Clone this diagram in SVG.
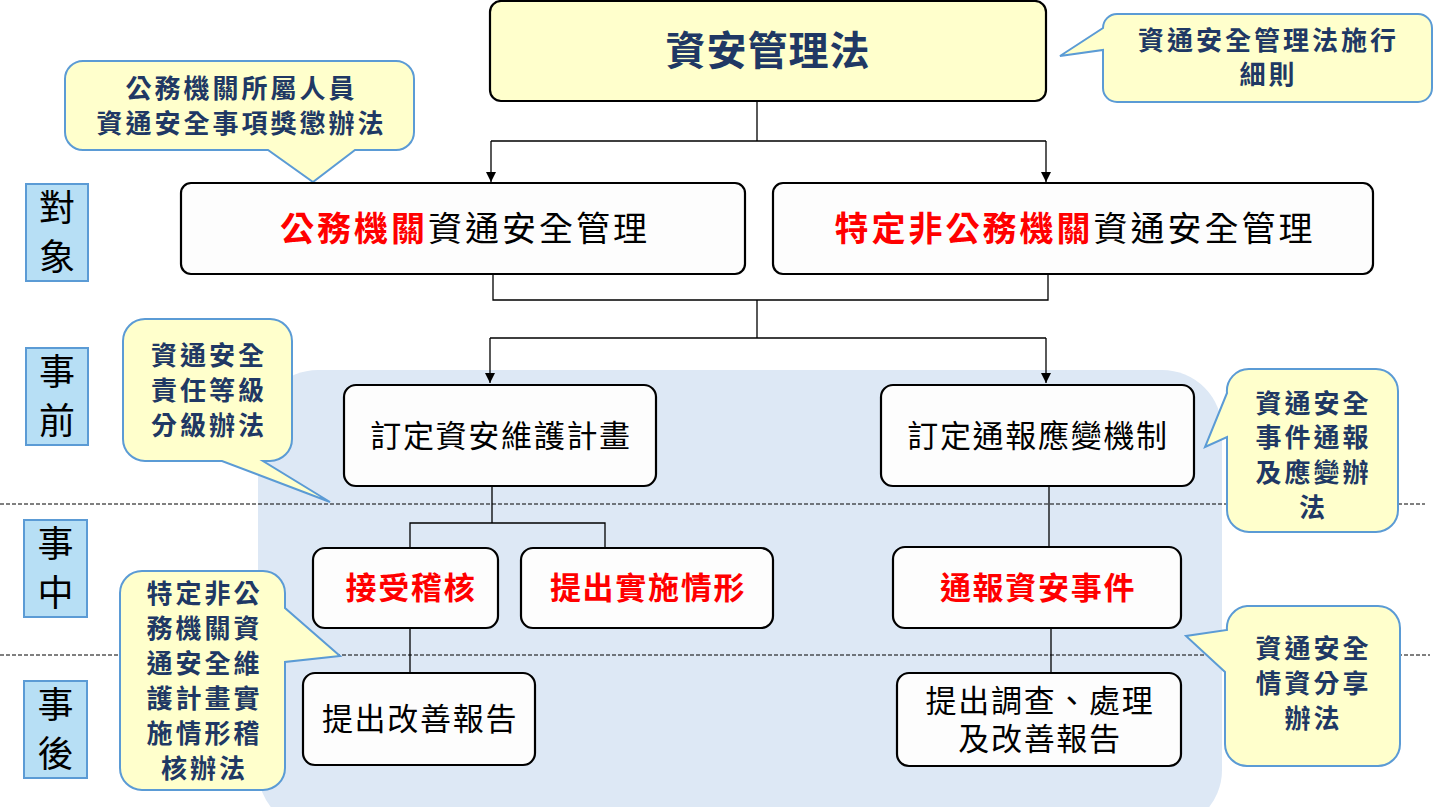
<svg xmlns="http://www.w3.org/2000/svg" width="1433" height="807" viewBox="0 0 1433 807">
<defs>
<style>
.bg{fill:#dde8f5;stroke:none}
.dash{stroke:#000;stroke-width:1;stroke-dasharray:4 2;fill:none}
.box{fill:#fdfdfd;stroke:#000;stroke-width:2.2}
.law{fill:#ffffcc;stroke:#000;stroke-width:2.2}
.call{fill:#ffffcc;stroke:#5b9bd5;stroke-width:2}
.lbl{fill:#b7dff5;stroke:#5b9bd5;stroke-width:2}
.conn{stroke:#000;stroke-width:1.3;fill:none}
text{font-family:"Noto Sans CJK TC","Noto Sans CJK SC",sans-serif;text-anchor:middle}
.tc{font-size:26px;font-weight:700;fill:#203864;letter-spacing:3px}
.tl{font-size:36px;font-weight:400;fill:#000}
.tb{font-size:34px;font-weight:400;fill:#000;letter-spacing:3px}
.tm{font-size:31px;font-weight:400;fill:#000;letter-spacing:1.7px}
.red{fill:#ff0000;font-weight:700}
</style>
<marker id="arr" viewBox="0 0 10 10" refX="10" refY="5" markerWidth="10" markerHeight="10" markerUnits="userSpaceOnUse" orient="auto">
<path d="M0,0 L10,5 L0,10 Z" fill="#000"/>
</marker>
</defs>

<rect class="bg" x="258" y="370" width="964" height="460" rx="60"/>
<line class="dash" x1="0" y1="504" x2="1425" y2="504"/>
<line class="dash" x1="0" y1="655" x2="1430" y2="655"/>

<g id="connectors">
<path class="conn" d="M757,101 V141 M491,141 H1046"/>
<path class="conn" d="M491,141 V182" marker-end="url(#arr)"/>
<path class="conn" d="M1046,141 V182" marker-end="url(#arr)"/>
<path class="conn" d="M493,275 V300 H1048 V275 M757,300 V338 M490,338 H1046"/>
<path class="conn" d="M490,338 V383" marker-end="url(#arr)"/>
<path class="conn" d="M1046,338 V383" marker-end="url(#arr)"/>
<path class="conn" d="M492,486 V523 M410,548 V523 H605 V548"/>
<path class="conn" d="M410,628 V673"/>
<path class="conn" d="M1049,486 V547"/>
<path class="conn" d="M1051,628 V673"/>
</g>

<g id="law">
<rect class="law" x="490" y="1" width="556" height="100" rx="11"/>
<text x="768" y="65" style="font-size:40px;font-weight:700;fill:#203864;letter-spacing:1px">資安管理法</text>
</g>

<g id="callout-rules">
<path class="call" d="M1117,14 H1418 A14,14 0 0 1 1432,28 V88 A14,14 0 0 1 1418,102 H1117 A14,14 0 0 1 1103,88 V50 L1060,56 L1103,28 A14,14 0 0 1 1117,14 Z"/>
<text class="tc" x="1268.5" y="50">資通安全管理法施行</text>
<text class="tc" x="1268.5" y="84">細則</text>
</g>

<g id="callout-reward">
<path class="call" d="M83,61 H396 A18,18 0 0 1 414,79 V132 A18,18 0 0 1 396,150 H355 L313,182 L268,150 H83 A18,18 0 0 1 65,132 V79 A18,18 0 0 1 83,61 Z"/>
<text class="tc" x="241.5" y="98">公務機關所屬人員</text>
<text class="tc" x="241.5" y="133">資通安全事項獎懲辦法</text>
</g>

<g id="label-target">
<rect class="lbl" x="26" y="184" width="62" height="97"/>
<text class="tl" x="57" y="221">對</text>
<text class="tl" x="57" y="270">象</text>
</g>
<g id="label-before">
<rect class="lbl" x="26" y="348" width="62" height="97"/>
<text class="tl" x="57" y="385">事</text>
<text class="tl" x="57" y="434">前</text>
</g>
<g id="label-during">
<rect class="lbl" x="24" y="520" width="63" height="97"/>
<text class="tl" x="55.5" y="557">事</text>
<text class="tl" x="55.5" y="606">中</text>
</g>
<g id="label-after">
<rect class="lbl" x="24" y="681" width="63" height="97"/>
<text class="tl" x="55.5" y="718">事</text>
<text class="tl" x="55.5" y="767">後</text>
</g>

<g id="gov">
<rect class="box" x="181" y="183" width="564" height="91" rx="10"/>
<text class="tb" x="465" y="241"><tspan class="red">公務機關</tspan>資通安全管理</text>
</g>
<g id="nongov">
<rect class="box" x="773" y="183" width="600" height="91" rx="10"/>
<text class="tb" x="1075" y="241"><tspan class="red">特定非公務機關</tspan>資通安全管理</text>
</g>

<g id="callout-level">
<path class="call" d="M145,319 H270 A22,22 0 0 1 292,341 V439 A22,22 0 0 1 270,461 H263 L330,502 L222,461 H145 A22,22 0 0 1 123,439 V341 A22,22 0 0 1 145,319 Z"/>
<text class="tc" x="209" y="365">資通安全</text>
<text class="tc" x="209" y="400">責任等級</text>
<text class="tc" x="209" y="435">分級辦法</text>
</g>

<g id="plan">
<rect class="box" x="344" y="385" width="312" height="101" rx="12"/>
<text class="tm" x="501" y="447">訂定資安維護計畫</text>
</g>
<g id="mechanism">
<rect class="box" x="881" y="385" width="313" height="101" rx="12"/>
<text class="tm" x="1038" y="447">訂定通報應變機制</text>
</g>

<g id="callout-incident">
<path class="call" d="M1249,369 H1376 A22,22 0 0 1 1398,391 V510 A22,22 0 0 1 1376,532 H1249 A22,22 0 0 1 1227,510 V437 L1205,447 L1227,393 A22,22 0 0 1 1249,369 Z"/>
<text class="tc" x="1313.5" y="413">資通安全</text>
<text class="tc" x="1313.5" y="447">事件通報</text>
<text class="tc" x="1313.5" y="482">及應變辦</text>
<text class="tc" x="1313.5" y="517">法</text>
</g>

<g id="audit">
<rect class="box" x="313" y="548" width="185" height="80" rx="12"/>
<text class="tm red" x="411" y="599">接受稽核</text>
</g>
<g id="status">
<rect class="box" x="521" y="548" width="252" height="80" rx="12"/>
<text class="tm red" x="648" y="599">提出實施情形</text>
</g>
<g id="report-incident">
<rect class="box" x="893" y="547" width="288" height="81" rx="12"/>
<text class="tm red" x="1038" y="599">通報資安事件</text>
</g>

<g id="callout-audit">
<path class="call" d="M142,571 H263 A22,22 0 0 1 285,593 V608 L340,656 L285,662 V768 A22,22 0 0 1 263,790 H142 A22,22 0 0 1 120,768 V593 A22,22 0 0 1 142,571 Z"/>
<text class="tc" x="204.5" y="603">特定非公</text>
<text class="tc" x="204.5" y="638">務機關資</text>
<text class="tc" x="204.5" y="673">通安全維</text>
<text class="tc" x="204.5" y="708">護計畫實</text>
<text class="tc" x="204.5" y="743">施情形稽</text>
<text class="tc" x="204.5" y="778">核辦法</text>
</g>

<g id="improve">
<rect class="box" x="303" y="673" width="232" height="92" rx="12"/>
<text class="tm" x="420" y="730">提出改善報告</text>
</g>
<g id="investigate">
<rect class="box" x="897" y="673" width="284" height="93" rx="12"/>
<text class="tm" x="1040" y="712"><tspan x="1040" y="712">提出調查、處理</tspan><tspan x="1040" y="750">及改善報告</tspan></text>
</g>

<g id="callout-share">
<path class="call" d="M1247,606 H1378 A22,22 0 0 1 1400,628 V744 A22,22 0 0 1 1378,766 H1247 A22,22 0 0 1 1225,744 V672 L1186,636 L1227,630 A22,22 0 0 1 1247,606 Z"/>
<text class="tc" x="1313.5" y="658">資通安全</text>
<text class="tc" x="1313.5" y="693">情資分享</text>
<text class="tc" x="1313.5" y="728">辦法</text>
</g>
</svg>
